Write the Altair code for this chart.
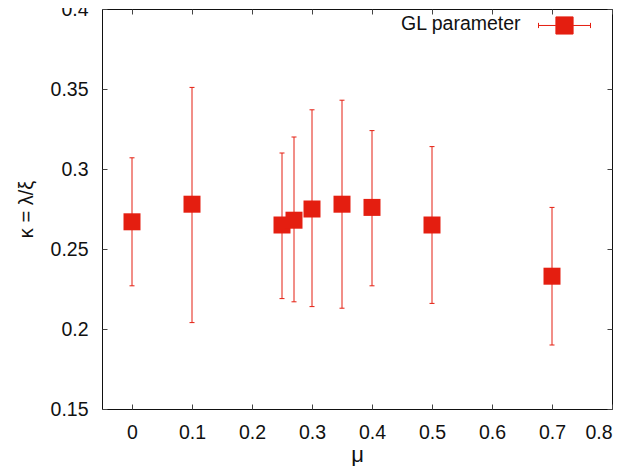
import altair as alt
import pandas as pd

# data
mu = [0.0, 0.1, 0.25, 0.27, 0.3, 0.35, 0.4, 0.5, 0.7]
kappa = [0.267, 0.278, 0.265, 0.268, 0.275, 0.278, 0.276, 0.265, 0.233]
kappa_lo = [0.227, 0.204, 0.219, 0.217, 0.214, 0.213, 0.227, 0.216, 0.190]
kappa_hi = [0.307, 0.351, 0.310, 0.320, 0.337, 0.343, 0.324, 0.314, 0.276]
series = ["GL parameter"] * len(mu)

x_ticks = [0, 0.1, 0.2, 0.3, 0.4, 0.5, 0.6, 0.7, 0.8]
y_ticks = [0.15, 0.2, 0.25, 0.3, 0.35, 0.4]

RED = "#e41e10"
FONT = "Liberation Sans"
FS = 19.5

df = pd.DataFrame({"mu": mu, "kappa": kappa, "lo": kappa_lo, "hi": kappa_hi, "series": series})

xs = alt.Scale(domain=[-0.05, 0.8], nice=False, zero=False)
ys = alt.Scale(domain=[0.15, 0.4], nice=False, zero=False)

common_axis = dict(grid=False, domain=False, tickSize=5, offset=-5, tickWidth=1,
                   tickColor="#444444", labelFont=FONT, labelFontSize=FS,
                   labelColor="#111111", titleFont=FONT,
                   titleFontWeight="normal", titleColor="#111111")

bottom_axis = alt.Axis(orient="bottom", values=x_ticks, format="~g", labelPadding=14,
                       title="μ", titleFontSize=22, titlePadding=3, **common_axis)
left_axis = alt.Axis(orient="left", values=y_ticks, format="~g", labelPadding=14,
                     title="κ = λ/ξ", titleFontSize=20, titlePadding=14, **common_axis)
top_axis = alt.Axis(orient="top", values=x_ticks, labels=False, title=None, **common_axis)
right_axis = alt.Axis(orient="right", values=y_ticks, labels=False, title=None, **common_axis)

base = alt.Chart(df)

bars = base.mark_rule(color=RED, strokeWidth=1).encode(
    x=alt.X("mu:Q", scale=xs, axis=bottom_axis),
    y=alt.Y("lo:Q", scale=ys, axis=left_axis),
    y2="hi:Q",
)
cap_lo = base.mark_tick(color=RED, orient="horizontal", size=5, thickness=1, opacity=1).encode(
    x=alt.X("mu:Q", scale=xs, axis=None), y=alt.Y("lo:Q", scale=ys, axis=None)
)
cap_hi = base.mark_tick(color=RED, orient="horizontal", size=5, thickness=1, opacity=1).encode(
    x=alt.X("mu:Q", scale=xs, axis=None), y=alt.Y("hi:Q", scale=ys, axis=None)
)

# legend sample: error bar with caps and a square, drawn slightly below the title's middle
legend_symbol = ("M-1,0.13L-1,0.33M-1,0.23L-0.33,0.23M0.33,0.23L1,0.23M1,0.13L1,0.33"
                 "M-0.33,-0.1L0.33,-0.1L0.33,0.56L-0.33,0.56Z")

points = base.mark_square(size=289, opacity=1, filled=True).encode(
    x=alt.X("mu:Q", scale=xs, axis=top_axis),
    y=alt.Y("kappa:Q", scale=ys, axis=right_axis),
    color=alt.Color("series:N", scale=alt.Scale(range=[RED]),
                    legend=alt.Legend(title="GL parameter", titleOrient="left",
                                      titleFont=FONT, titleFontSize=FS,
                                      titleFontWeight="normal", titleColor="#111111",
                                      titlePadding=16, titleBaseline="top",
                                      titleAnchor="middle",
                                      symbolType=legend_symbol, symbolSize=2704,
                                      symbolStrokeColor=RED, symbolStrokeWidth=1,
                                      symbolOpacity=1, labelExpr="''", labelFontSize=1,
                                      orient="none", legendX=299, legendY=-16, padding=0)),
)

chart = alt.layer(bars, cap_lo, cap_hi, points).resolve_axis(
    x="independent", y="independent"
).properties(
    width=510, height=400,
    autosize=alt.AutoSizeParams(type="none"),
    padding={"left": 94, "top": 1, "right": 6, "bottom": 57},
).configure_view(stroke="#111111", strokeWidth=1)

chart.save("out.html", embed_options={"renderer": "svg", "actions": False})
